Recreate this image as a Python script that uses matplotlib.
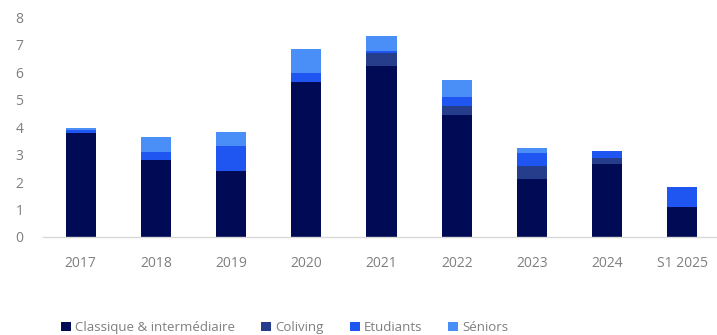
import numpy as np
import matplotlib
matplotlib.use('Agg')
import matplotlib.pyplot as plt

plt.rcParams['font.family'] = ['Open Sans', 'DejaVu Sans']

# --- données ---
annees = ['2017', '2018', '2019', '2020', '2021', '2022', '2023', '2024', 'S1 2025']
classique = [3.80, 2.81, 2.40, 5.64, 6.24, 4.45, 2.11, 2.64, 1.11]
coliving = [0.00, 0.00, 0.00, 0.00, 0.45, 0.33, 0.46, 0.25, 0.00]
etudiants = [0.08, 0.28, 0.90, 0.32, 0.10, 0.31, 0.48, 0.25, 0.71]
seniors = [0.08, 0.55, 0.52, 0.89, 0.53, 0.62, 0.19, 0.00, 0.00]

series = [
    ('Classique & intermédiaire', classique, '#000a55'),
    ('Coliving', coliving, '#263d8c'),
    ('Etudiants', etudiants, '#1f55f0'),
    ('Séniors', seniors, '#4a8ff7'),
]

fig = plt.figure(figsize=(7.17, 3.35), dpi=100)
ax = fig.add_axes([43 / 717, 98 / 335, (717 - 43) / 717, (237 - 17.3) / 335])

x = np.arange(len(annees))
bottom = np.zeros(len(annees))
for nom, vals, couleur in series:
    vals = np.array(vals)
    ax.bar(x, vals, width=0.4, bottom=bottom, color=couleur, label=nom)
    bottom += vals

ax.set_xlim(-0.5, 8.46)
ax.set_ylim(0, 8)
ax.set_yticks(range(0, 9))
ax.set_xticks(x)
ax.set_xticklabels(annees)

for s in ['top', 'right', 'left']:
    ax.spines[s].set_visible(False)
ax.spines['bottom'].set_color('#d9d9d9')
ax.spines['bottom'].set_linewidth(1.0)
ax.tick_params(axis='both', length=0, colors='#7f7f7f', labelsize=10)
ax.tick_params(axis='x', pad=14)
ax.tick_params(axis='y', pad=14)

leg = fig.legend(loc='center', bbox_to_anchor=(0.397, 0.022), ncol=4, frameon=False,
                 fontsize=9.5, handlelength=0.75, handleheight=0.75, handletextpad=0.3,
                 columnspacing=2.0, labelcolor='#7f7f7f')

fig.savefig('out.png', dpi=100)
